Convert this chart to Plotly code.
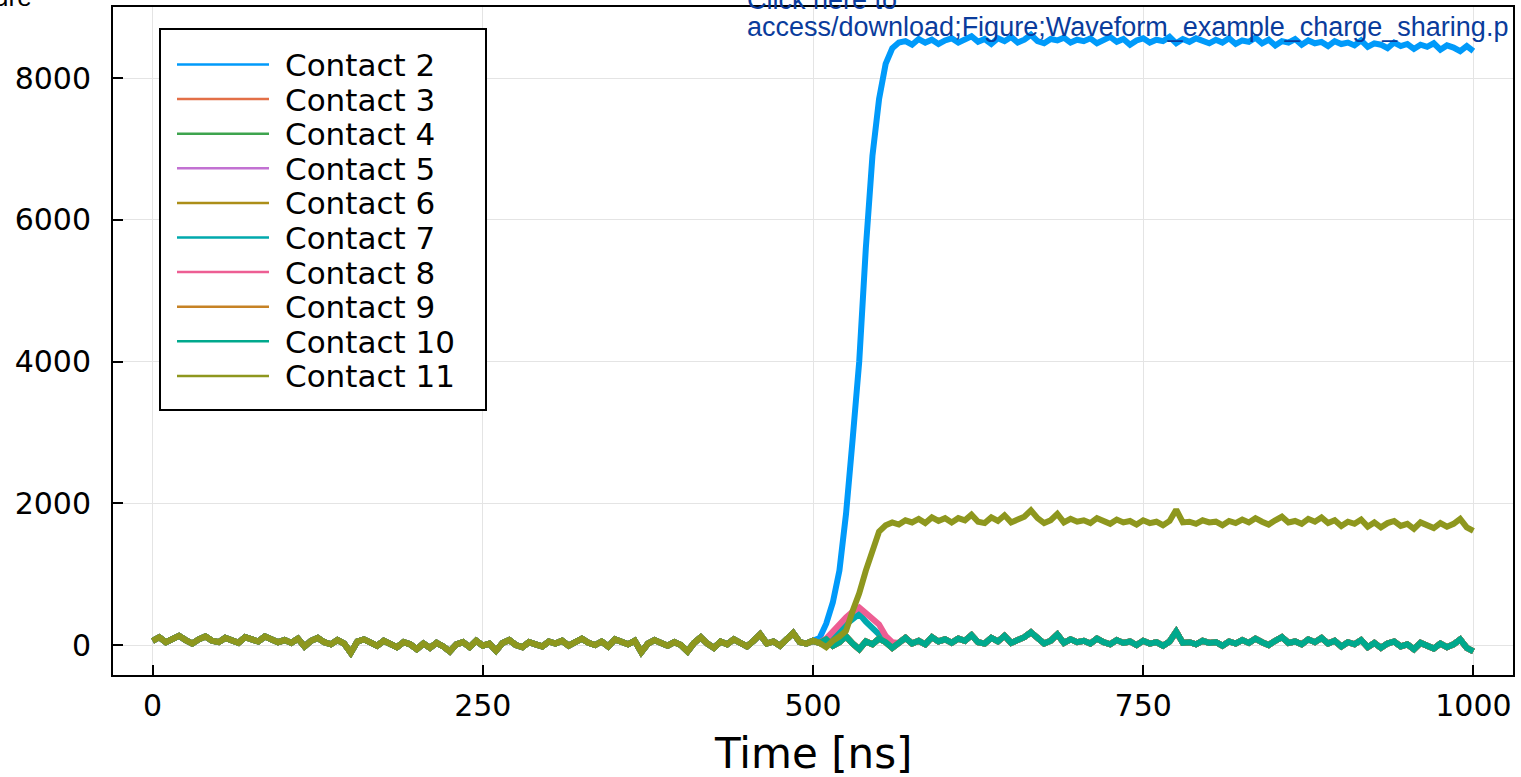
import plotly.graph_objects as go

# ---------------- data ----------------
time_ns = list(range(0, 1001, 5))  # sample grid, 5 ns

# common baseline shared by all contacts before the event, t = 0..500 ns
baseline_0_500 = [
    60, 110, 40, 90, 130, 70, 20, 80, 120, 60, 40, 100, 70, 30, 110, 80, 50, 120, 90, 40, 70,
    30, 90, -20, 60, 100, 40, 10, 70, 20, -110, 50, 80, 30, -10, 60, 20, -30, 40, 10, -60,
    20, -40, 30, -20, -90, 10, 40, -30, 60, -10, 20, -80, 30, 70, 0, -30, 40, 10, -20, 50,
    20, 60, -10, 40, 90, 30, 0, 50, -20, 80, 40, 10, 60, -100, 20, 70, 30, -10, 40, 0,
    -90, 30, 110, 20, -40, 50, 10, 80, 30, -20, 60, 150, 20, 50, -10, 70, 170, 40, 20, 60,
]

# t = 505..600 ns
c2_505_600 = [100, 300, 600, 1050, 1850, 2900, 4000, 5600, 6900, 7700,
              8200, 8420, 8500, 8520, 8470, 8550, 8500, 8540, 8480, 8530]
c7_505_600 = [30, 60, 120, 200, 290, 370, 440, 330, 230, 140,
              60, 20, 30, 100, 20, 60, 10, 110, 50, 80]
c8_505_600 = [30, 90, 190, 310, 390, 470, 530, 450, 380, 290,
              130, 40, 30, 100, 20, 60, 10, 110, 50, 80]
c10_505_600 = [30, 80, -10, 40, 120, 20, -60, 50, 10, 90,
               40, -40, 30, 100, 20, 60, 10, 110, 50, 80]
c11_505_600 = [30, -30, 60, 120, 200, 480, 730, 1050, 1350, 1600,
               1690, 1730, 1700, 1760, 1730, 1780, 1720, 1800, 1750, 1790]

# t = 605..1000 ns
c2_605_1000 = [
    8560, 8500, 8540, 8590, 8510, 8550, 8480, 8560, 8520, 8580, 8500, 8540, 8610, 8520, 8490, 8550, 8530, 8570, 8500, 8540,
    8520, 8560, 8490, 8540, 8580, 8510, 8550, 8470, 8530, 8560, 8500, 8540, 8520, 8580, 8490, 8550, 8510, 8560, 8530, 8490,
    8540, 8500, 8560, 8480, 8530, 8510, 8570, 8490, 8540, 8460, 8520, 8500, 8550, 8470, 8530, 8490, 8510, 8450, 8520, 8480,
    8500, 8460, 8530, 8440, 8490, 8470, 8420, 8500, 8450, 8480, 8410, 8470, 8440, 8490, 8400, 8460, 8430, 8380, 8450, 8380,
]
c10_605_1000 = [
    30, 90, 60, 140, 40, 20, 100, 50, 130, 30, 70, 110, 180, 90, 20, 60, 150, 30, 80, 40,
    60, 20, 90, 40, 10, 70, 30, 50, 0, 60, 20, 40, -10, 50, 190, 30, 40, 10, 60, 30,
    40, -10, 50, 20, 70, 30, 90, 40, 0, 60, 110, 30, 50, 10, 80, 40, 100, 20, 60, -20,
    40, 10, 70, -30, 30, -40, 20, 50, -20, 10, -60, 30, -10, -50, 20, -30, 10, 80, -40, -90,
]
c11_605_1000 = [
    1730, 1790, 1760, 1840, 1740, 1720, 1800, 1750, 1830, 1730, 1770, 1810, 1900, 1790, 1720, 1760, 1850, 1730, 1780, 1740,
    1760, 1720, 1790, 1740, 1710, 1770, 1730, 1750, 1700, 1760, 1720, 1740, 1690, 1750, 1910, 1730, 1740, 1710, 1760, 1730,
    1740, 1690, 1750, 1720, 1770, 1730, 1790, 1740, 1700, 1760, 1810, 1730, 1750, 1710, 1780, 1740, 1800, 1720, 1760, 1680,
    1740, 1710, 1770, 1670, 1730, 1660, 1720, 1750, 1680, 1710, 1640, 1730, 1690, 1650, 1720, 1670, 1710, 1780, 1660, 1610,
]

contact_names = ["Contact 2", "Contact 3", "Contact 4", "Contact 5", "Contact 6",
                 "Contact 7", "Contact 8", "Contact 9", "Contact 10", "Contact 11"]
contact_colors = ["#009AFA", "#E36F47", "#3EA44E", "#C271D2", "#AC8E18",
                  "#00A9AD", "#ED5E93", "#C68225", "#00A98D", "#8E971E"]

contact_values = [
    baseline_0_500 + c2_505_600 + c2_605_1000,    # 2
    baseline_0_500 + c10_505_600 + c10_605_1000,  # 3
    baseline_0_500 + c10_505_600 + c10_605_1000,  # 4
    baseline_0_500 + c10_505_600 + c10_605_1000,  # 5
    baseline_0_500 + c10_505_600 + c10_605_1000,  # 6
    baseline_0_500 + c7_505_600 + c10_605_1000,   # 7
    baseline_0_500 + c8_505_600 + c10_605_1000,   # 8
    baseline_0_500 + c10_505_600 + c10_605_1000,  # 9
    baseline_0_500 + c10_505_600 + c10_605_1000,  # 10
    baseline_0_500 + c11_505_600 + c11_605_1000,  # 11
]

x_ticks = [0, 250, 500, 750, 1000]
y_ticks = [0, 2000, 4000, 6000, 8000]

# ---------------- layout geometry ----------------
W, H = 1521, 777
ML, MR, MT, MB = 113, 8, 7, 102
PW, PH = W - ML - MR, H - MT - MB


def px(x):
    return (x - ML) / PW


def py(y):
    return (H - MB - y) / PH


FONT = "DejaVu Sans"

fig = go.Figure()
for name, color, vals in zip(contact_names, contact_colors, contact_values):
    fig.add_trace(go.Scatter(x=time_ns, y=vals, mode="lines", name=name,
                             line=dict(color=color, width=6), showlegend=False))

axis_common = dict(
    showline=True, linecolor="black", linewidth=2, mirror=True,
    ticks="inside", ticklen=10, tickwidth=2, tickcolor="black",
    showgrid=True, gridcolor="#e4e4e4", gridwidth=1.3,
    zeroline=False, automargin=False,
    tickfont=dict(family=FONT, size=30, color="black"),
)

fig.update_layout(
    width=W, height=H,
    margin=dict(l=ML, r=MR, t=MT, b=MB, pad=0, autoexpand=False),
    paper_bgcolor="white", plot_bgcolor="white",
    xaxis=dict(range=[-30, 1030], tickvals=x_ticks, ticktext=[str(v) for v in x_ticks],
               ticklabelstandoff=3, **axis_common),
    yaxis=dict(range=[-423, 9002], tickvals=y_ticks, ticktext=[str(v) for v in y_ticks],
               ticklabelstandoff=14, **axis_common),
    showlegend=False,
)

# ---------------- legend (drawn manually for exact spacing) ----------------
LEG_BOX = (160, 29, 486, 410)
LEG_Y0, LEG_STEP = 64.5, 34.6
LEG_LX0, LEG_LX1, LEG_TX = 177, 269, 283

shapes = [dict(type="rect", xref="paper", yref="paper",
               x0=px(LEG_BOX[0]), x1=px(LEG_BOX[2]), y0=py(LEG_BOX[3]), y1=py(LEG_BOX[1]),
               line=dict(color="black", width=2), fillcolor="white", layer="above")]
annotations = []
for i, (name, color) in enumerate(zip(contact_names, contact_colors)):
    yy = LEG_Y0 + i * LEG_STEP
    shapes.append(dict(type="line", xref="paper", yref="paper",
                       x0=px(LEG_LX0), x1=px(LEG_LX1), y0=py(yy), y1=py(yy),
                       line=dict(color=color, width=2.5), layer="above"))
    annotations.append(dict(text=name, xref="paper", yref="paper", x=px(LEG_TX), y=py(yy + 0.5),
                            xanchor="left", yanchor="middle", showarrow=False,
                            font=dict(family=FONT, size=31, color="black")))

# x-axis title
annotations.append(dict(text="Time [ns]", xref="paper", yref="paper", x=0.5, y=py(753),
                        xanchor="center", yanchor="middle", showarrow=False,
                        font=dict(family=FONT, size=42, color="black")))

# header texts from the source document
annotations.append(dict(text="Click here to", xref="paper", yref="paper", x=px(745), y=py(0),
                        xanchor="left", yanchor="middle", showarrow=False,
                        font=dict(family="Liberation Sans", size=27, color="#0a3c9c")))
annotations.append(dict(text="access/download;Figure;Waveform_example_charge_sharing.p",
                        xref="paper", yref="paper", x=px(745), y=py(27),
                        xanchor="left", yanchor="middle", showarrow=False,
                        font=dict(family="Liberation Sans", size=27, color="#0a3c9c")))
annotations.append(dict(text="Figure", xref="paper", yref="paper", x=px(34), y=py(-3),
                        xanchor="right", yanchor="middle", showarrow=False,
                        font=dict(family="Liberation Sans", size=26, color="black")))

fig.update_layout(shapes=shapes, annotations=annotations)

fig.write_html("out.html")
